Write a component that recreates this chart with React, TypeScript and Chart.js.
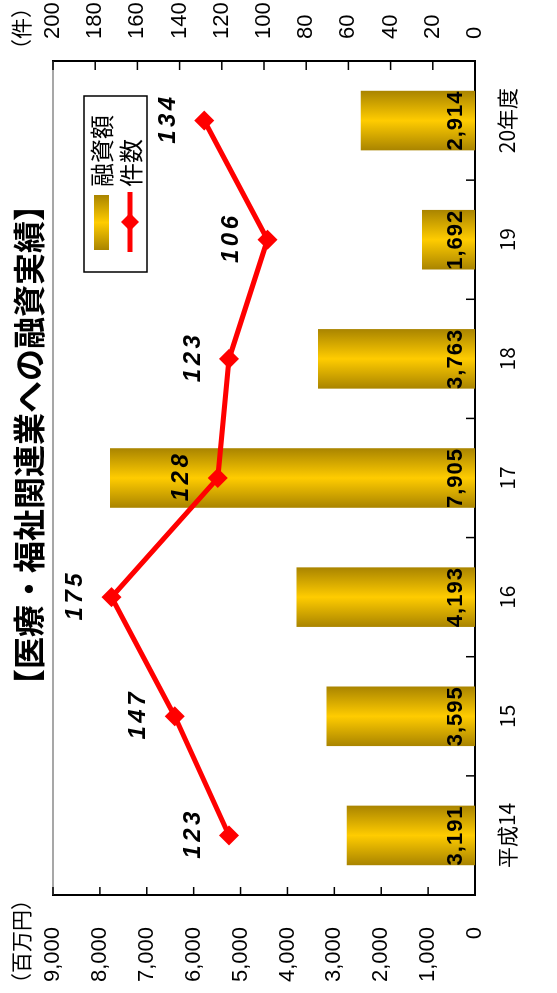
import React, { useEffect, useRef } from 'react';
import { Chart, registerables } from 'chart.js';

Chart.register(...registerables);

// ---- data ----
const chartTitle = '【医療・福祉関連業への融資実績】';
const leftUnit = '（百万円）';
const rightUnit = '（件）';
const categories = ['平成14', '15', '16', '17', '18', '19', '20年度'];
const loanAmountLabel = '融資額';
const loanAmounts = [3191, 3595, 4193, 7905, 3763, 1692, 2914];
const loanCountLabel = '件数';
const loanCounts = [123, 147, 175, 128, 123, 106, 134];
const leftTickValues = [0, 1000, 2000, 3000, 4000, 5000, 6000, 7000, 8000, 9000];
const rightTickValues = [0, 20, 40, 60, 80, 100, 120, 140, 160, 180, 200];

const NUM_FONT = '"Liberation Sans", Arial, sans-serif';
const JP_FONT = '"Noto Sans CJK JP", "Noto Sans", sans-serif';
const GOLD_DARK = '#A98400';
const GOLD_LIGHT = '#FFCC00';

function goldGradient(ctx: CanvasRenderingContext2D, x0: number, x1: number) {
  if (!isFinite(x0) || !isFinite(x1) || x0 === x1) return GOLD_LIGHT;
  const g = ctx.createLinearGradient(x0, 0, x1, 0);
  g.addColorStop(0, GOLD_DARK);
  g.addColorStop(0.5, GOLD_LIGHT);
  g.addColorStop(1, GOLD_DARK);
  return g;
}

function seg(ctx: CanvasRenderingContext2D, x1: number, y1: number, x2: number, y2: number) {
  ctx.beginPath();
  ctx.moveTo(x1, y1);
  ctx.lineTo(x2, y2);
  ctx.stroke();
}

function diamond(ctx: CanvasRenderingContext2D, x: number, y: number, r: number) {
  ctx.beginPath();
  ctx.moveTo(x - r, y);
  ctx.lineTo(x, y - r);
  ctx.lineTo(x + r, y);
  ctx.lineTo(x, y + r);
  ctx.closePath();
  ctx.fill();
}

const decorPlugin = {
  id: 'decor',
  beforeDatasetsDraw(chart: any) {
    const ctx: CanvasRenderingContext2D = chart.ctx;
    const barMeta = chart.getDatasetMeta(1);
    barMeta.data.forEach((el: any) => {
      if (el.options && isFinite(el.x) && isFinite(el.width)) {
        el.options.backgroundColor = goldGradient(ctx, el.x - el.width / 2, el.x + el.width / 2);
      }
    });
  },
  afterDraw(chart: any) {
    const ctx: CanvasRenderingContext2D = chart.ctx;
    const { left, right, top, bottom } = chart.chartArea;
    ctx.save();

    // top frame line (grey)
    ctx.strokeStyle = '#8a8a8a';
    ctx.lineWidth = 1.5;
    seg(ctx, left, top, right, top);

    // inward tick marks
    ctx.strokeStyle = '#000';
    ctx.lineWidth = 1.5;
    const yL = chart.scales.yLeft;
    leftTickValues.forEach((v) => {
      const y = yL.getPixelForValue(v);
      seg(ctx, left, y, left + 8, y);
    });
    const yR = chart.scales.yRight;
    rightTickValues.forEach((v) => {
      const y = yR.getPixelForValue(v);
      seg(ctx, right - 9, y, right, y);
    });
    const xs = chart.scales.x;
    for (let i = 0; i < categories.length - 1; i++) {
      const x = (xs.getPixelForValue(i) + xs.getPixelForValue(i + 1)) / 2;
      seg(ctx, x, bottom, x, bottom - 9);
    }

    // bar value labels
    const barMeta = chart.getDatasetMeta(1);
    ctx.fillStyle = '#000';
    ctx.textAlign = 'center';
    ctx.textBaseline = 'middle';
    ctx.font = `bold 22px ${NUM_FONT}`;
    (ctx as any).letterSpacing = '1px';
    barMeta.data.forEach((el: any, i: number) => {
      ctx.fillText(loanAmounts[i].toLocaleString('en-US'), el.x, bottom - 19);
    });

    // line value labels
    const lineMeta = chart.getDatasetMeta(0);
    ctx.font = `italic bold 24px ${NUM_FONT}`;
    (ctx as any).letterSpacing = '3.5px';
    lineMeta.data.forEach((el: any, i: number) => {
      ctx.fillText(String(loanCounts[i]), el.x + 2, el.y - 36);
    });
    (ctx as any).letterSpacing = '0px';

    // title
    ctx.font = `bold 32px ${JP_FONT}`;
    ctx.fillText(chartTitle, 548, 29);

    // unit labels
    ctx.font = `21px ${JP_FONT}`;
    ctx.textAlign = 'left';
    ctx.fillText(leftUnit, -1, 21);
    ctx.fillText(rightUnit, 933, 21);

    // legend
    const lx = 721, ly = 84, lw = 176, lh = 63;
    ctx.fillStyle = '#fff';
    ctx.fillRect(lx, ly, lw, lh);
    ctx.strokeStyle = '#000';
    ctx.lineWidth = 1.5;
    ctx.strokeRect(lx, ly, lw, lh);
    ctx.fillStyle = goldGradient(ctx, lx + 22, lx + 77);
    ctx.fillRect(lx + 22, ly + 10, 55, 15);
    ctx.strokeStyle = '#FF0000';
    ctx.lineWidth = 5;
    seg(ctx, lx + 20, ly + 46, lx + 80, ly + 46);
    ctx.fillStyle = '#FF0000';
    diamond(ctx, lx + 50, ly + 46, 9);
    ctx.fillStyle = '#000';
    ctx.font = `24px ${JP_FONT}`;
    ctx.textBaseline = 'middle';
    ctx.fillText(chart.data.datasets[1].label, lx + 85, ly + 18);
    ctx.fillText(chart.data.datasets[0].label, lx + 85, ly + 47);

    ctx.restore();
  },
};

export default function App() {
  const ref = useRef<HTMLCanvasElement>(null);

  useEffect(() => {
    const canvas = ref.current!;
    const chart = new Chart(canvas, {
      type: 'bar',
      data: {
        labels: categories,
        datasets: [
          {
            type: 'line',
            label: loanCountLabel,
            data: loanCounts,
            yAxisID: 'yLine',
            borderColor: '#FF0000',
            backgroundColor: '#FF0000',
            borderWidth: 5,
            pointStyle: 'rectRot',
            pointRadius: 10,
            pointBorderWidth: 0,
            pointBackgroundColor: '#FF0000',
            tension: 0,
            order: 0,
          } as any,
          {
            type: 'bar',
            label: loanAmountLabel,
            data: loanAmounts,
            yAxisID: 'yBar',
            categoryPercentage: 1,
            barPercentage: 0.5,
            borderWidth: 0,
            order: 1,
            backgroundColor: (c: any) => {
              const ch = c.chart;
              const xs = ch.scales && ch.scales.x;
              if (!xs || c.dataIndex === undefined) return GOLD_LIGHT;
              const cx = xs.getPixelForValue(c.dataIndex);
              const w = (xs.width / categories.length) * 0.5;
              return goldGradient(ch.ctx, cx - w / 2, cx + w / 2);
            },
          } as any,
        ],
      },
      options: {
        responsive: false,
        maintainAspectRatio: false,
        devicePixelRatio: 1,
        animation: false,
        color: '#000',
        layout: { padding: { top: 53, left: 0, right: 0, bottom: 0 } },
        plugins: {
          legend: { display: false },
          title: { display: false },
          tooltip: { enabled: false },
        },
        scales: {
          x: {
            type: 'category',
            offset: true,
            grid: { display: false, drawTicks: false },
            border: { display: true, color: '#000', width: 2 },
            ticks: {
              color: '#000',
              font: { family: JP_FONT, size: 21 },
              padding: 19,
              maxRotation: 0,
              autoSkip: false,
            },
            afterFit: (s: any) => { s.height = 82; },
          },
          yLeft: {
            position: 'left',
            min: 0,
            max: 9000,
            grid: { display: false, drawTicks: false },
            border: { display: true, color: '#000', width: 2 },
            ticks: {
              color: '#000',
              font: { family: NUM_FONT, size: 22 },
              padding: 32,
              callback: (v: any) => Number(v).toLocaleString('en-US'),
            },
            afterBuildTicks: (s: any) => { s.ticks = leftTickValues.map((v) => ({ value: v })); },
            afterFit: (s: any) => { s.width = 98; },
          },
          yRight: {
            position: 'right',
            min: 0,
            max: 200,
            grid: { display: false, drawTicks: false },
            border: { display: true, color: '#000', width: 2 },
            ticks: {
              color: '#000',
              font: { family: NUM_FONT, size: 22 },
              padding: 22,
            },
            afterBuildTicks: (s: any) => { s.ticks = rightTickValues.map((v) => ({ value: v })); },
            afterFit: (s: any) => { s.width = 61; },
          },
          yBar: {
            display: false,
            position: 'left',
            min: 637,
            max: 9040,
          },
          yLine: {
            display: false,
            position: 'right',
            min: 14.2,
            max: 200.9,
          },
        },
      } as any,
      plugins: [decorPlugin as any],
    });
    return () => chart.destroy();
  }, []);

  return (
    <div style={{ position: 'fixed', left: 0, top: 0, width: 557, height: 993, overflow: 'hidden', background: '#fff' }}>
      <div
        style={{
          position: 'absolute',
          left: 0,
          top: 0,
          width: 993,
          height: 557,
          transformOrigin: '0 0',
          transform: 'translateY(993px) rotate(-90deg)',
        }}
      >
        <canvas ref={ref} width={993} height={557} style={{ width: 993, height: 557, display: 'block' }} />
      </div>
    </div>
  );
}
